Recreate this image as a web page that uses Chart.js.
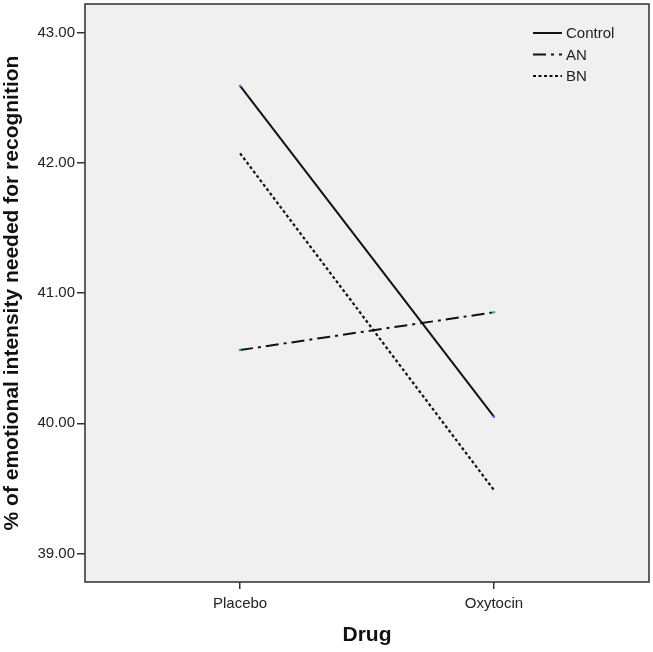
<!DOCTYPE html>
<html><head><meta charset="utf-8">
<script src="https://cdn.jsdelivr.net/npm/chart.js@4/dist/chart.umd.min.js"></script>
<style>html,body{margin:0;padding:0;background:#fff}#wrap{width:653px;height:652px}</style>
</head><body><div id="wrap"><canvas id="c" width="653" height="652"></canvas></div>
<script>
const categories = ["Placebo", "Oxytocin"];
const controlValues = [42.593, 40.051];
const anValues = [40.563, 40.853];
const bnValues = [42.075, 39.487];
const yTicks = [39, 40, 41, 42, 43];
const seriesLabels = ["Control", "AN", "BN"];

const FONT = "'Liberation Sans', Arial, sans-serif";
const toPts = arr => arr.map((v, i) => ({x: i, y: v}));

const bgBorder = {
  id: 'bgBorder',
  beforeDraw(chart) {
    const {ctx, chartArea: a} = chart;
    ctx.save();
    ctx.fillStyle = '#f0f0f0';
    ctx.fillRect(a.left, a.top, a.right - a.left, a.bottom - a.top);
    ctx.restore();
  },
  afterDraw(chart) {
    const {ctx, chartArea: a} = chart;
    ctx.save();
    ctx.strokeStyle = '#3a3a3a';
    ctx.lineWidth = 1.6;
    ctx.strokeRect(a.left, a.top, a.right - a.left, a.bottom - a.top);
    // legend
    const x0 = a.left + 448, y0 = a.top + 29, dy = 21.5;
    ctx.font = "15px " + FONT;
    ctx.textBaseline = 'middle';
    chart.data.datasets.forEach((ds, i) => {
      const y = y0 + i * dy;
      ctx.beginPath();
      ctx.setLineDash(ds.borderDash || []);
      ctx.lineWidth = ds.borderWidth;
      ctx.strokeStyle = '#111';
      ctx.moveTo(x0, y); ctx.lineTo(x0 + 29, y);
      ctx.stroke();
      ctx.setLineDash([]);
      ctx.fillStyle = '#222';
      ctx.fillText(ds.label, x0 + 33, y + 1);
    });
    ctx.restore();
  }
};

new Chart(document.getElementById('c'), {
  type: 'line',
  data: {
    datasets: [
      {label: seriesLabels[0], data: toPts(controlValues), borderColor: '#111', borderWidth: 2, pointRadius: 1.3, pointBackgroundColor: '#5a6fd0', pointBorderWidth: 0},
      {label: seriesLabels[1], data: toPts(anValues), borderColor: '#111', borderWidth: 2, borderDash: [13, 5, 3, 5], pointRadius: 1.3, pointBackgroundColor: '#2db34a', pointBorderWidth: 0},
      {label: seriesLabels[2], data: toPts(bnValues), borderColor: '#111', borderWidth: 2.2, borderDash: [3, 2.5], pointRadius: 0}
    ]
  },
  options: {
    responsive: false,
    animation: false,
    layout: {padding: {top: 4, right: 4, left: 0, bottom: 0}},
    plugins: {legend: {display: false}, tooltip: {enabled: false}},
    scales: {
      x: {
        type: 'linear', min: -0.611, max: 1.611,
        afterBuildTicks: s => { s.ticks = categories.map((c, i) => ({value: i})); },
        afterFit: s => { s.height = 70; s.paddingLeft = 0; s.paddingRight = 0; },
        ticks: {callback: v => categories[v], color: '#222', font: {family: FONT, size: 15}, padding: 6, maxRotation: 0},
        grid: {drawOnChartArea: false, drawTicks: true, tickLength: 7, color: '#333', lineWidth: 1.5},
        border: {display: false},
        title: {display: true, text: 'Drug', color: '#111', font: {family: FONT, size: 21, weight: 'bold'}, padding: {top: 7}}
      },
      y: {
        type: 'linear', min: 38.78, max: 43.223,
        afterBuildTicks: s => { s.ticks = yTicks.map(v => ({value: v})); },
        afterFit: s => { s.width = 85; s.paddingTop = 0; s.paddingBottom = 0; },
        ticks: {callback: v => v.toFixed(2), color: '#222', font: {family: FONT, size: 15}, padding: 2},
        grid: {drawOnChartArea: false, drawTicks: true, tickLength: 8, color: '#333', lineWidth: 1.5},
        border: {display: false},
        title: {display: true, text: '% of emotional intensity needed for recognition', color: '#111', font: {family: FONT, size: 21, weight: 'bold'}, padding: {top: 0, bottom: 0}}
      }
    }
  },
  plugins: [bgBorder]
});
</script></body></html>
